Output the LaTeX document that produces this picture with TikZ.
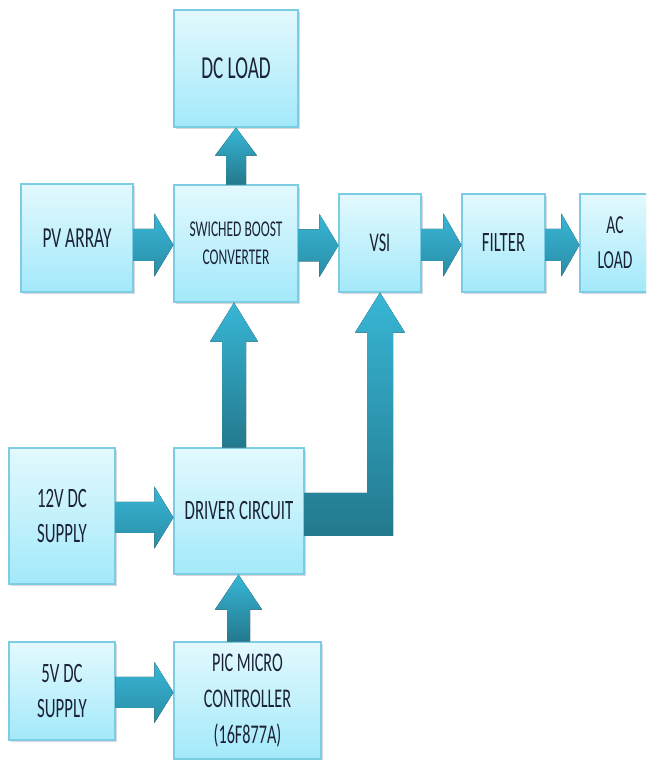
\documentclass[tikz,border=0pt]{standalone}
\usepackage{fontspec}
\newfontfamily\lbl[FakeStretch=0.6]{Carlito}
\usetikzlibrary{calc,shadows}
\definecolor{boxtop}{HTML}{E3F9FE}
\definecolor{boxbot}{HTML}{A3E9FA}
\definecolor{boxline}{HTML}{7CCDE3}
\definecolor{arrtop}{HTML}{38B6D6}
\definecolor{arrbot}{HTML}{23798D}
\definecolor{arrhbot}{HTML}{2A8DA6}
\definecolor{txt}{HTML}{1B2236}
\tikzset{
 blk/.style={draw=boxline, line width=1.2pt, top color=boxtop, bottom color=boxbot,
   inner sep=0pt, align=center, text=txt,
   drop shadow={shadow xshift=1.5pt, shadow yshift=-2.5pt, opacity=0.3}},
 arrv/.style={top color=arrtop, bottom color=arrbot, draw=none},
 arrh/.style={top color=arrtop, bottom color=arrhbot, draw=none},
}
\newcommand\fs[2]{\fontsize{#1}{#2}\selectfont}
% horizontal arrow: from, to, y, shaft half, head half, head length
\newcommand\harr[6]{%
 \fill[arrh] let \p1=(#1.east), \p2=(#2.west) in
 (\x1,#3pt+#4pt) -- (\x2-#6pt,#3pt+#4pt) -- (\x2-#6pt,#3pt+#5pt) -- (\x2,#3pt)
 -- (\x2-#6pt,#3pt-#5pt) -- (\x2-#6pt,#3pt-#4pt) -- (\x1,#3pt-#4pt) -- cycle;}
% vertical arrow: from, to, x, shaft half, head half, head length
\newcommand\varr[6]{%
 \fill[arrv] let \p1=(#1.north), \p2=(#2.south) in
 (#3pt-#4pt,\y1) -- (#3pt-#4pt,\y2-#6pt) -- (#3pt-#5pt,\y2-#6pt) -- (#3pt,\y2)
 -- (#3pt+#5pt,\y2-#6pt) -- (#3pt+#4pt,\y2-#6pt) -- (#3pt+#4pt,\y1) -- cycle;}
\begin{document}
\begin{tikzpicture}[x=1pt,y=1pt]
\path[use as bounding box] (0,0) rectangle (646,760);
\clip (0,0) rectangle (646,760);
\node[blk, minimum width=124pt, minimum height=117pt, font=\lbl\fs{32}{38}] (dc) at (236,691.5) {DC LOAD};
\node[blk, minimum width=112pt, minimum height=108pt, font=\lbl\fs{29}{35}] (pv) at (77,522) {PV ARRAY};
\node[blk, minimum width=124pt, minimum height=117pt, font=\lbl\fs{22.5}{28}] (sbc) at (236,516.5) {SWICHED BOOST\\CONVERTER};
\node[blk, minimum width=82pt, minimum height=98pt, font=\lbl\fs{27}{34}] (vsi) at (380,517) {VSI};
\node[blk, minimum width=83pt, minimum height=98pt, font=\lbl\fs{28}{34}] (flt) at (503.5,517) {FILTER};
\node[blk, minimum width=70pt, minimum height=98pt, font=\lbl\fs{26}{35}] (ac) at (615,517) {AC\\LOAD};
\node[blk, minimum width=106pt, minimum height=136pt, font=\lbl\fs{28}{35}] (s12) at (62,244) {12V DC\\SUPPLY};
\node[blk, minimum width=130pt, minimum height=126pt, font=\lbl\fs{28}{35}] (drv) at (239,249) {DRIVER CIRCUIT};
\node[blk, minimum width=106pt, minimum height=98pt, font=\lbl\fs{28}{35}] (s5) at (62,69) {5V DC\\SUPPLY};
\node[blk, minimum width=147pt, minimum height=117pt, font=\lbl\fs{27}{36}] (pic) at (247.5,59.5) {PIC MICRO\\CONTROLLER\\(16F877A)};
% arrows
\harr{pv}{sbc}{515}{16}{31.5}{19}
\harr{sbc}{vsi}{514.5}{16}{31.5}{19}
\harr{vsi}{flt}{515}{16}{31.5}{18}
\harr{flt}{ac}{515}{16}{31.5}{18}
\harr{s12}{drv}{242.5}{15.5}{31}{19}
\harr{s5}{pic}{67.5}{15.5}{30.5}{19}
\varr{sbc}{dc}{236}{10}{21}{28}
\varr{drv}{sbc}{234}{12}{24}{39}
\varr{pic}{drv}{238.5}{11.5}{23.5}{35}
\fill[arrv] let \p1=(drv.east), \p2=(vsi.south) in
 (\x1,224pt) -- (\x2+13pt,224pt) -- (\x2+13pt,\y2-40pt) -- (\x2+25pt,\y2-40pt)
 -- (\x2,\y2) -- (\x2-25pt,\y2-40pt) -- (\x2-13pt,\y2-40pt) -- (\x2-13pt,267pt)
 -- (\x1,267pt) -- cycle;
\end{tikzpicture}
\end{document}
